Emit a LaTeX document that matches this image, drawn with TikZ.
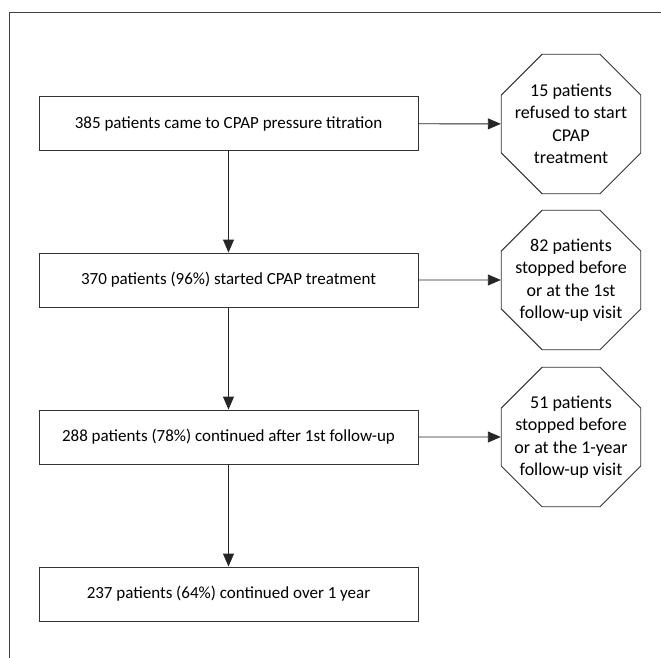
\documentclass[tikz,border=0pt]{standalone}
\usepackage{fontspec}
\setmainfont{Carlito}
\usetikzlibrary{arrows.meta,shapes.geometric}

\begin{document}
\begin{tikzpicture}[x=1pt, y=-1pt, line width=0.9pt,
  box/.style={draw=black!80, rectangle, minimum width=379pt, minimum height=54pt,
    inner sep=0pt, font=\fontsize{17}{22.5}\selectfont},
  octo/.style={draw=black!80, regular polygon, regular polygon sides=8,
    minimum size=151pt, inner sep=-12pt, align=center, font=\fontsize{18}{22.5}\selectfont},
  arr/.style={draw=black!85, -{Triangle[length=13pt,width=11pt]}}]

\useasboundingbox (0,0) rectangle (661,658);
\draw[black!75] (9,658) -- (9,12) -- (661,12);

\node[box] (b1) at (228.5,123.5) {385 patients came to CPAP pressure titration};
\node[box] (b2) at (228.5,280) {370 patients (96\%) started CPAP treatment};
\node[box] (b3) at (228.5,437) {288 patients (78\%) continued after 1st follow-up};
\node[box] (b4) at (228.5,594) {237 patients (64\%) continued over 1 year};

\node[octo] (o1) at (571,124) {15 patients\\refused to start\\CPAP\\treatment};
\node[octo] (o2) at (571,280) {82 patients\\stopped before\\or at the 1st\\follow-up visit};
\node[octo] (o3) at (571,437) {51 patients\\stopped before\\or at the 1-year\\follow-up visit};

\draw[arr] (b1) -- (b2);
\draw[arr] (b2) -- (b3);
\draw[arr] (b3) -- (b4);

\draw[arr] (b1) -- (o1);
\draw[arr] (b2) -- (o2);
\draw[arr] (b3) -- (o3);

\end{tikzpicture}
\end{document}
